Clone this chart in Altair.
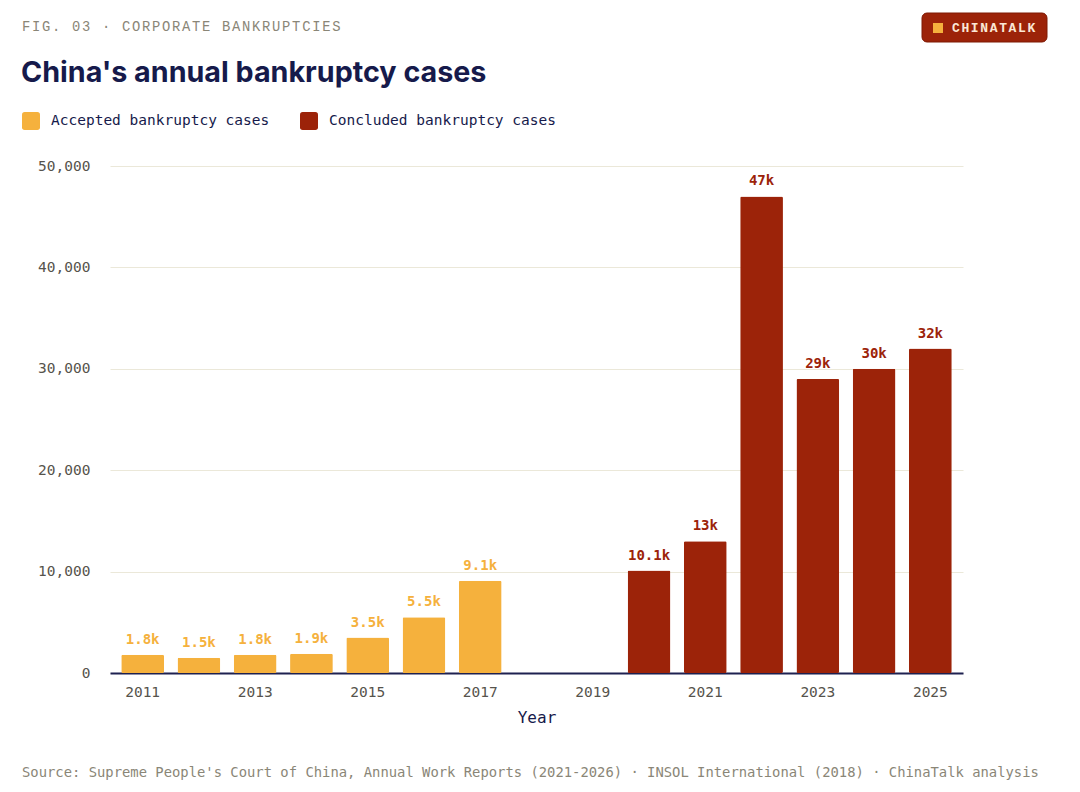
import altair as alt
import pandas as pd

# ---- data ----
years_accepted = [2011, 2012, 2013, 2014, 2015, 2016, 2017]
accepted_cases = [1800, 1500, 1800, 1900, 3500, 5500, 9100]
years_concluded = [2020, 2021, 2022, 2023, 2024, 2025]
concluded_cases = [10100, 13000, 47000, 29000, 30000, 32000]
all_years = list(range(2011, 2026))
year_ticks = [2011, 2013, 2015, 2017, 2019, 2021, 2023, 2025]
value_ticks = [0, 10000, 20000, 30000, 40000, 50000]
series_names = ["Accepted bankruptcy cases", "Concluded bankruptcy cases"]
series_colors = ["#F5B13D", "#9C2309"]

header_text = "FIG. 03 · CORPORATE BANKRUPTCIES"
title_text = "China's annual bankruptcy cases"
badge_text = "CHINATALK"
source_text = ("Source: Supreme People's Court of China, Annual Work Reports (2021-2026) · "
               "INSOL International (2018) · ChinaTalk analysis")


def tracked(s, gap="\u200a\u200a"):
    # emulate letter spacing with hair spaces between characters
    return gap.join(s)


def k_label(v):
    s = f"{v / 1000:.1f}"
    if s.endswith(".0"):
        s = s[:-2]
    return s + "k"


rows = []
for y, v in zip(years_accepted, accepted_cases):
    rows.append({"year": y, "value": v, "series": series_names[0], "label": k_label(v)})
for y, v in zip(years_concluded, concluded_cases):
    rows.append({"year": y, "value": v, "series": series_names[1], "label": k_label(v)})
df = pd.DataFrame(rows)

MONO = "DejaVu Sans Mono"
MONO2 = "Liberation Mono"
SANS = "Inter"
NAVY = "#161a4b"
GRAY = "#56534c"
MUTED = "#8a8677"

rounded_square = ("M -0.7,-1 L 0.7,-1 Q 1,-1 1,-0.7 L 1,0.7 Q 1,1 0.7,1 L -0.7,1 "
                  "Q -1,1 -1,0.7 L -1,-0.7 Q -1,-1 -0.7,-1 Z")

x_enc = alt.X(
    "year:O",
    scale=alt.Scale(domain=all_years, paddingInner=0.24, paddingOuter=0.2),
    axis=alt.Axis(
        values=year_ticks, title="Year", labelAngle=0, ticks=False,
        labelFont=MONO, labelFontSize=14.5, labelColor=GRAY, labelPadding=12,
        domainColor="#1e2150", domainWidth=2, grid=False,
        titleFont=MONO, titleFontSize=16, titleColor=NAVY, titleFontWeight=500,
        titlePadding=11,
    ),
)
y_enc = alt.Y(
    "value:Q",
    scale=alt.Scale(domain=[0, 50000], nice=False),
    axis=alt.Axis(
        values=value_ticks, format=",d", title=None, ticks=False, domain=False,
        labelFont=MONO, labelFontSize=14.5, labelColor=GRAY, labelPadding=20,
        gridColor="#ebe8d9", gridWidth=1,
    ),
)
color_scale = alt.Scale(domain=series_names, range=series_colors)

bars = alt.Chart(df).mark_bar(cornerRadius=1.5).encode(
    x=x_enc,
    y=y_enc,
    color=alt.Color(
        "series:N", scale=color_scale,
        legend=alt.Legend(
            orient="none", legendX=-88, legendY=-54, direction="horizontal",
            title=None, symbolType=rounded_square, symbolSize=324,
            symbolStrokeWidth=0, symbolOpacity=1, labelFont=MONO,
            labelFontSize=14.5, labelColor=NAVY, labelOffset=11,
            columnPadding=30, labelLimit=400,
        ),
    ),
)

labels = alt.Chart(df).mark_text(
    baseline="bottom", dy=-8, font=MONO, fontWeight="bold", fontSize=14
).encode(
    x=alt.X("year:O", scale=alt.Scale(domain=all_years, paddingInner=0.24, paddingOuter=0.2)),
    y=alt.Y("value:Q"),
    text="label:N",
    color=alt.Color("series:N", scale=color_scale, legend=None),
)

header = alt.Chart(pd.DataFrame({"t": [tracked(header_text)]})).mark_text(
    align="left", baseline="middle", font=MONO2, fontSize=13.8, color=MUTED
).encode(x=alt.value(-88), y=alt.value(-139), text="t:N")

title = alt.Chart(pd.DataFrame({"t": [title_text]})).mark_text(
    align="left", baseline="middle", font=SANS, fontSize=28.7, fontWeight="bold", color=NAVY
).encode(x=alt.value(-89), y=alt.value(-93), text="t:N")

badge_bg = alt.Chart(pd.DataFrame({"t": [badge_text]})).mark_rect(
    cornerRadius=5, color="#9C2309", stroke="#7f1a05", strokeWidth=1
).encode(x=alt.value(812), x2=alt.value(937), y=alt.value(-153), y2=alt.value(-124))

badge_sq = alt.Chart(pd.DataFrame({"t": [badge_text]})).mark_rect(
    color="#F5B13D"
).encode(x=alt.value(823), x2=alt.value(833), y=alt.value(-143), y2=alt.value(-133))

badge_txt = alt.Chart(pd.DataFrame({"t": [tracked(badge_text)]})).mark_text(
    align="left", baseline="middle", font=MONO2, fontSize=13, fontWeight="bold",
    color="#fbe8d6"
).encode(x=alt.value(842), y=alt.value(-138), text="t:N")

source = alt.Chart(pd.DataFrame({"t": [source_text]})).mark_text(
    align="left", baseline="middle", font=MONO, fontSize=13.85, color=MUTED
).encode(x=alt.value(-88), y=alt.value(607), text="t:N")

chart = alt.layer(
    bars, labels, header, title, badge_bg, badge_sq, badge_txt, source
).properties(
    width=853, height=507,
    autosize=alt.AutoSizeParams(type="none"),
    padding={"left": 102, "top": 158, "right": 109, "bottom": 111},
    background="white",
).configure_view(stroke=None)

chart.save("out.html", embed_options={"renderer": "svg", "actions": False})
